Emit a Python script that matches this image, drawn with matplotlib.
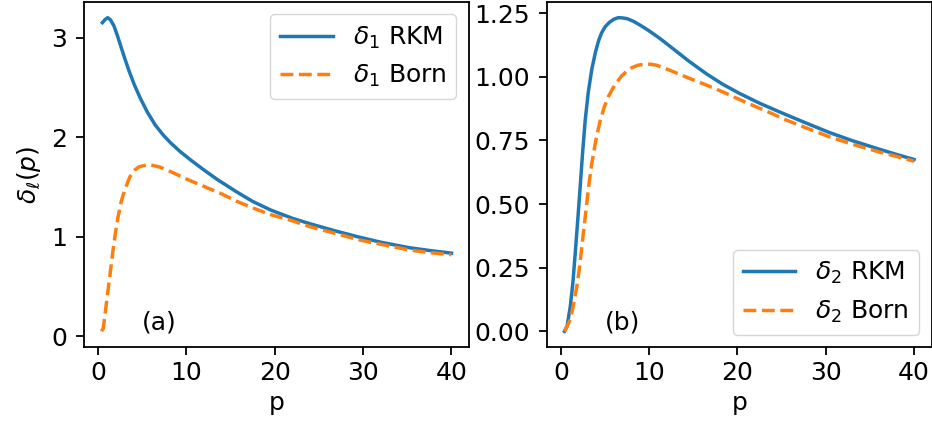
import numpy as np
import matplotlib.pyplot as plt

# phase shifts, l = 1
p1_rkm = [0.5, 0.8, 1.1, 1.4, 1.8, 2.2, 2.6, 3.0, 3.5, 4.1, 4.8, 5.6, 6.5,
          7.4, 8.2, 9.3, 10.5, 12.0, 13.5, 15.7, 17.5, 19.5, 22.0, 24.0,
          27.0, 29.6, 32.0, 35.2, 37.5, 40.0]
d1_rkm = [3.15, 3.18, 3.20, 3.18, 3.12, 3.02, 2.91, 2.80, 2.67, 2.53, 2.39,
          2.25, 2.12, 2.02, 1.945, 1.855, 1.77, 1.67, 1.575, 1.45, 1.355, 1.27,
          1.185, 1.13, 1.055, 0.995, 0.945, 0.89, 0.862, 0.835]

p1_born = [0.4, 0.6, 0.9, 1.16, 1.45, 1.72, 2.0, 2.29, 2.65, 3.04, 3.6,
           4.17, 4.6, 5.0, 5.5, 6.0, 7.0, 8.2, 10.0, 12.0, 14.0, 15.7, 17.5,
           19.5, 22.0, 24.0, 27.0, 29.6, 32.5, 35.2, 37.5, 40.0]
d1_born = [0.05, 0.08, 0.29, 0.475, 0.68, 0.874, 1.05, 1.206, 1.36, 1.47,
           1.60, 1.67, 1.70, 1.71, 1.72, 1.72, 1.70, 1.655, 1.58, 1.505,
           1.43, 1.356, 1.29, 1.223, 1.16, 1.10, 1.03, 0.967, 0.915, 0.867,
           0.84, 0.82]

# l = 2
p2_rkm = [0.4, 0.7, 1.06, 1.35, 1.62, 1.9, 2.18, 2.45, 2.75, 3.1, 3.5, 3.9,
          4.25, 4.6, 5.0, 5.5, 6.0, 6.5, 7.0, 7.5, 8.2, 9.0, 10.0, 11.3,
          12.7, 14.5, 16.5, 18.3, 20.2, 22.5, 24.75, 27.5, 30.4, 33.0, 36.0,
          38.0, 40.0]
d2_rkm = [0.0, 0.02, 0.098, 0.19, 0.307, 0.435, 0.568, 0.70, 0.83, 0.94,
          1.03, 1.095, 1.14, 1.172, 1.196, 1.214, 1.226, 1.232, 1.231, 1.228,
          1.218, 1.202, 1.18, 1.148, 1.11, 1.061, 1.011, 0.971, 0.935, 0.896,
          0.862, 0.822, 0.781, 0.749, 0.716, 0.695, 0.675]

p2_born = [0.4, 0.7, 1.06, 1.4, 1.8, 2.1, 2.37, 2.65, 2.93, 3.2, 3.5, 3.95,
           4.43, 4.9, 5.37, 6.1, 6.87, 7.4, 8.0, 8.7, 9.5, 10.2, 10.86, 12.5,
           14.6, 16.5, 18.36, 20.2, 22.1, 23.8, 25.5, 28.0, 30.4, 33.0, 36.0,
           38.0, 40.0]
d2_born = [0.0, 0.02, 0.046, 0.10, 0.176, 0.25, 0.333, 0.42, 0.503, 0.585,
           0.66, 0.75, 0.825, 0.88, 0.922, 0.968, 1.003, 1.02, 1.035, 1.045,
           1.05, 1.049, 1.045, 1.023, 0.993, 0.967, 0.94, 0.911, 0.882, 0.857,
           0.83, 0.796, 0.764, 0.735, 0.705, 0.687, 0.668]

xticks = [0, 10, 20, 30, 40]
yticks1 = [0, 1, 2, 3]
yticks2 = [0.0, 0.25, 0.5, 0.75, 1.0, 1.25]

plt.rcParams['font.size'] = 18
plt.rcParams['axes.linewidth'] = 1.3
plt.rcParams['xtick.major.size'] = 5.8
plt.rcParams['ytick.major.size'] = 5.8
plt.rcParams['xtick.major.width'] = 1.3
plt.rcParams['ytick.major.width'] = 1.3
plt.rcParams['xtick.major.pad'] = 4.5
plt.rcParams['ytick.major.pad'] = 6.5
plt.rcParams['legend.handlelength'] = 2.1

fig = plt.figure(figsize=(9.32, 4.33), dpi=100)
ax1 = fig.add_axes([0.0901, 0.1986, 0.4131, 0.7968])
ax2 = fig.add_axes([0.5869, 0.1986, 0.4126, 0.7968])

lw = 2.5
ax1.plot(p1_rkm, d1_rkm, lw=lw, label=r'$\delta_1$ RKM')
ax1.plot(p1_born, d1_born, '--', lw=lw, label=r'$\delta_1$ Born')
ax1.set_xlabel('p', labelpad=4)
ax1.set_ylabel(r'$\delta_\ell(p)$', labelpad=6)
ax1.set_xticks(xticks)
ax1.set_yticks(yticks1)
ax1.legend(loc='upper right')
ax1.text(0.15, 0.05, '(a)', transform=ax1.transAxes)

ax2.plot(p2_rkm, d2_rkm, lw=lw, label=r'$\delta_2$ RKM')
ax2.plot(p2_born, d2_born, '--', lw=lw, label=r'$\delta_2$ Born')
ax2.set_xlabel('p', labelpad=4)
ax2.set_xticks(xticks)
ax2.set_yticks(yticks2)
ax2.set_yticklabels(['%.2f' % t for t in yticks2])
ax2.legend(loc='lower right')
ax2.text(0.15, 0.05, '(b)', transform=ax2.transAxes)

plt.savefig('out.png', dpi=100)
